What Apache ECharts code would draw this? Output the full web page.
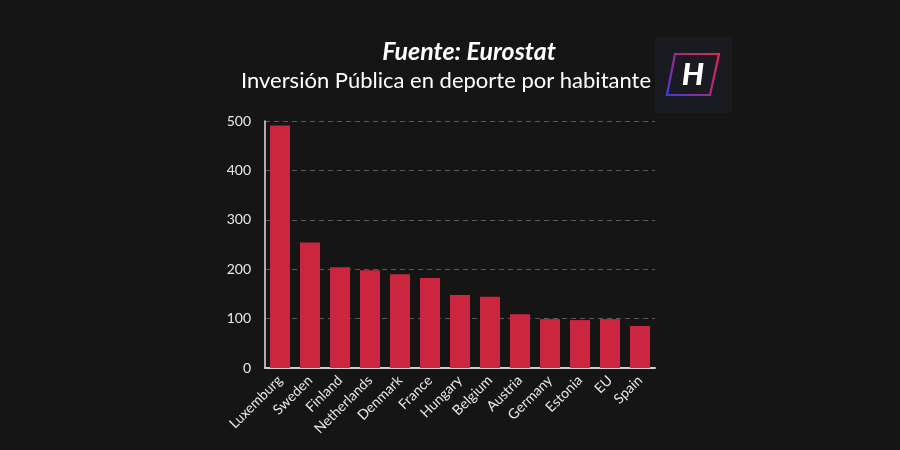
<!DOCTYPE html>
<html>
<head>
<meta charset="utf-8">
<script src="https://cdn.jsdelivr.net/npm/echarts@6/dist/echarts.min.js"></script>
<style>
html,body{margin:0;padding:0;background:#161515;}
#chart{width:900px;height:450px;}
</style>
</head>
<body>
<div id="chart"></div>
<script>
const categories = ['Luxemburg','Sweden','Finland','Netherlands','Denmark','France','Hungary','Belgium','Austria','Germany','Estonia','EU','Spain'];
const values = [491, 254, 204, 198, 190, 182, 148, 144, 109, 99, 97, 99, 85];
const titleText = 'Fuente: Eurostat';
const subtitleText = 'Inversión Pública en deporte por habitante';

const chart = echarts.init(document.getElementById('chart'));
chart.setOption({
  backgroundColor: '#161515',
  animation: false,
  title: [
    {text: titleText, left: 464, top: 34, textAlign: 'center',
     textStyle: {color: '#ffffff', fontFamily: 'Lato', fontStyle: 'italic', fontWeight: 'bold', fontSize: 25}},
    {text: subtitleText, left: 441, top: 65, textAlign: 'center',
     textStyle: {color: '#ffffff', fontFamily: 'Lato', fontWeight: 'normal', fontSize: 22}}
  ],
  grid: {left: 265, right: 245, top: 121, bottom: 82, containLabel: false},
  xAxis: {
    type: 'category', data: categories,
    axisLine: {show: true, lineStyle: {color: '#cfcfcf', width: 2}},
    axisTick: {show: false},
    axisLabel: {rotate: 45, color: '#e8e8e8', fontFamily: 'Lato', fontSize: 14, margin: 10, interval: 0}
  },
  yAxis: {
    type: 'value', min: 0, max: 500, interval: 100,
    axisLine: {show: true, lineStyle: {color: '#e0e0e0', width: 1.5}},
    axisTick: {show: false},
    axisLabel: {color: '#e8e8e8', fontFamily: 'Lato', fontSize: 14, margin: 14},
    splitLine: {show: true, lineStyle: {color: '#5a5a5a', type: [5, 4], width: 1.2}}
  },
  series: [{
    type: 'bar', data: values, barWidth: 20,
    itemStyle: {color: '#cc2540'}
  }],
  graphic: [
    {type: 'rect', shape: {x: 655, y: 37, width: 77, height: 76}, style: {fill: '#1a1b20'}},
    {type: 'polygon', shape: {points: [[675, 54], [719, 54], [710, 95], [667, 95]]},
     style: {fill: 'none', lineWidth: 2.2,
       stroke: new echarts.graphic.LinearGradient(0, 1, 1, 0, [
         {offset: 0, color: '#3b3be0'}, {offset: 0.5, color: '#a02a8c'}, {offset: 1, color: '#ee2645'}])}},
    {type: 'text', style: {x: 693, y: 75, text: 'H', fill: '#ffffff', font: 'italic 900 31px Lato',
       align: 'center', verticalAlign: 'middle'}}
  ]
});
</script>
</body>
</html>
